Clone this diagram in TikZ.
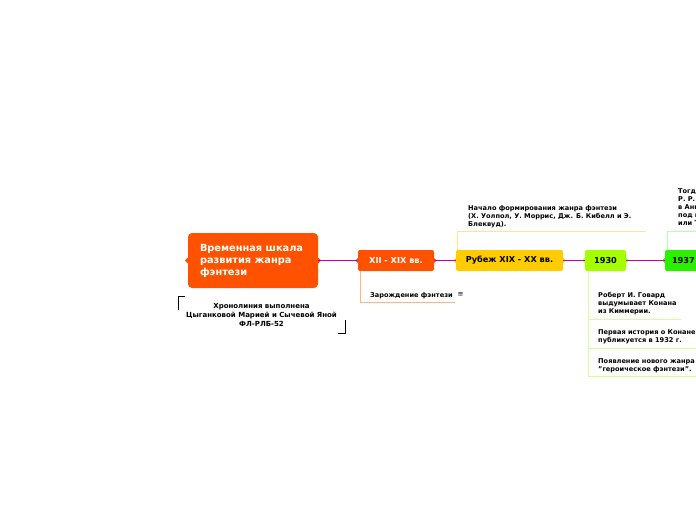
\documentclass[tikz,border=0pt]{standalone}
\usepackage{fontspec}
\usetikzlibrary{calc}
\setmainfont{DejaVu Sans}
\definecolor{corange}{HTML}{FF5200}
\definecolor{cyellow}{HTML}{FFCC00}
\definecolor{clime}{HTML}{A6FF00}
\definecolor{cgreen}{HTML}{2BF000}
\definecolor{cline}{HTML}{C000C0}
\definecolor{borange}{HTML}{FFB38A}
\definecolor{byellow}{HTML}{FFE88C}
\definecolor{blime}{HTML}{D4FF99}
\definecolor{bgreen}{HTML}{B3FFB3}
\begin{document}
\begin{tikzpicture}[x=1pt,y=-1pt,
  topic/.style={rounded corners=2pt, minimum height=21pt, inner sep=0pt, font=\bfseries\fontsize{8.2}{9}\selectfont},
  note/.style={anchor=north west, inner sep=0pt, align=left, font=\bfseries\fontsize{6.6}{8}\selectfont},
  mainline/.style={cline, line width=0.8pt},
  tick/.style={line width=0.8pt}]
\useasboundingbox (0,0) rectangle (696,520);
\clip (0,0) rectangle (696,520);
% central topic
\node[fill=corange, rounded corners=4pt, minimum width=130pt, minimum height=55pt, inner sep=0pt,
  text=white, align=left, font=\bfseries\fontsize{9.8}{12}\selectfont]
  (root) at (253,260.5) {\raisebox{-2pt}{\parbox{106pt}{Временная шкала\\развития жанра\\фэнтези}}};
\fill[corange] (root.west) ++(0,-3) -- ++(-3,3) -- ++(3,3) -- cycle;
\fill[corange] (root.east) ++(0,-3) -- ++(3,3) -- ++(-3,3) -- cycle;
% caption
\node[inner sep=0pt, align=center, font=\bfseries\fontsize{7}{9}\selectfont] (cap) at (261.5,315)
  {Хронолиния выполнена\\Цыганковой Марией и Сычевой Яной\\ФЛ-РЛБ-52};
\coordinate (captl) at (178,296);
\coordinate (capbr) at (345,333);
\draw[tick] ($(captl)+(7,0)$) -- (captl) -- ($(captl)+(0,14)$);
\draw[tick] ($(capbr)+(-7,0)$) -- (capbr) -- ($(capbr)+(0,-13)$);
% timeline topics
\node[topic, fill=corange, text=white, minimum width=76pt] (xii) at (396,260.5) {XII - XIX вв.};
\node[topic, fill=cyellow, minimum width=107pt] (rub) at (509.5,260.5) {Рубеж XIX - XX вв.};
\node[topic, fill=clime, minimum width=41pt] (y1930) at (605.5,260.5) {1930};
\node[topic, fill=cgreen, minimum width=44pt, text width=30pt, align=left] (y1937) at (687,260.5) {1937};
\foreach \n/\c in {xii/corange, rub/cyellow, y1930/clime} {
  \fill[\c] (\n.west) ++(0,-2.5) -- ++(-2.5,2.5) -- ++(2.5,2.5) -- cycle;
  \fill[\c] (\n.east) ++(0,-2.5) -- ++(2.5,2.5) -- ++(-2.5,2.5) -- cycle;
}
\fill[cgreen] (y1937.west) ++(0,-2.5) -- ++(-2.5,2.5) -- ++(2.5,2.5) -- cycle;
\draw[mainline] (root.east) -- (xii.west);
\draw[mainline] (xii.east) -- (rub.west);
\draw[mainline] (rub.east) -- (y1930.west);
\draw[mainline] (y1930.east) -- (y1937.west);
% XII branch
\node[note] (zar) at (370,292) {Зарождение фэнтези};
\node[inner sep=0pt, font=\fontsize{7}{8}\selectfont] (zaricon) at (460.5,295) {≡};
\coordinate (zarend) at (455,302);
\draw[borange, line width=0.8pt] (xii.south west) ++(3,0) coordinate (xiib) -- (xiib |- zarend) -- (zarend);
% Rubezh branch
\node[note] (nach) at (468,205) {Начало формирования жанра фэнтези\\(Х. Уолпол, У. Моррис, Дж. Б. Кибелл и Э.\\Блеквуд).};
\coordinate (nachend) at (646,231);
\draw[byellow, line width=0.8pt] (rub.north west) ++(2,0) coordinate (rubt) -- (rubt |- nachend) -- (nachend);
% 1930 branch
\node[note] (gov) at (598,292) {Роберт И. Говард\\выдумывает Конана\\из Киммерии.};
\node[note] (perv) at (598,329) {Первая история о Конане\\ публикуется в 1932 г.};
\node[note] (poyav) at (598,358) {Появление нового жанра\\"героическое фэнтези".};
\coordinate (e1) at (681,319);
\coordinate (e2) at (700,348);
\coordinate (e3) at (700,376);
\draw[blime, line width=0.8pt] (y1930.south west) ++(4,0) coordinate (yb) -- (yb |- e3) -- (e3);
\draw[blime, line width=0.8pt] (yb |- e1) -- (e1);
\draw[blime, line width=0.8pt] (yb |- e2) -- (e2);
% 1937 branch
\node[note] (tog) at (678,188) {Тогда же Дж.\\Р. Р. Толкин\\в Англии\\под названием\\или Туда};
\coordinate (togend) at (700,231);
\draw[bgreen, line width=0.8pt] (y1937.north west) ++(3,0) coordinate (gt) -- (gt |- togend) -- (togend);
\end{tikzpicture}
\end{document}
